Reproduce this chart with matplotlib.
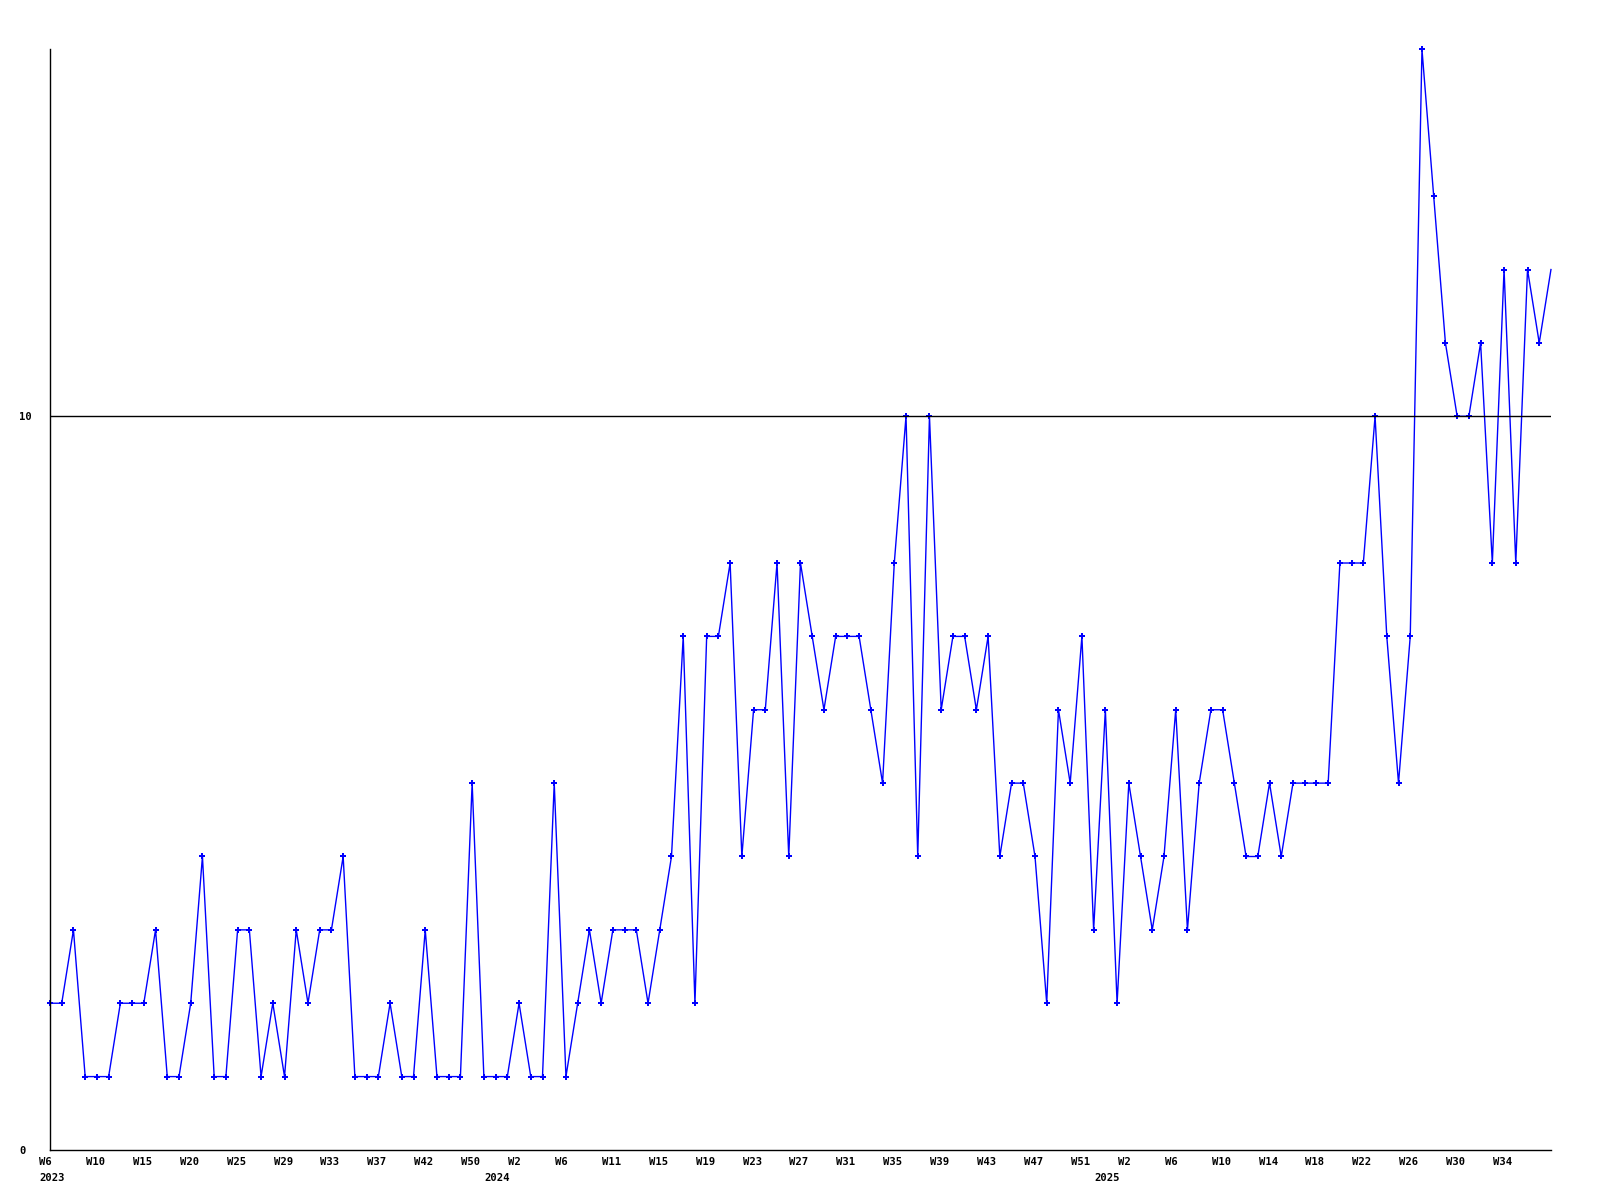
import matplotlib.pyplot as plt
from matplotlib.transforms import ScaledTranslation

# weekly values, 2023 W6 .. 2025
valores = [2, 2, 3, 1, 1, 1, 2, 2, 2, 3, 1, 1, 2, 4, 1, 1, 3, 3, 1, 2,
           1, 3, 2, 3, 3, 4, 1, 1, 1, 2, 1, 1, 3, 1, 1, 1, 5, 1, 1, 1,
           2, 1, 1, 5, 1, 2, 3, 2, 3, 3, 3, 2, 3, 4, 7, 2, 7, 7, 8, 4,
           6, 6, 8, 4, 8, 7, 6, 7, 7, 7, 6, 5, 8, 10, 4, 10, 6, 7, 7, 6,
           7, 4, 5, 5, 4, 2, 6, 5, 7, 3, 6, 2, 5, 4, 3, 4, 6, 3, 5, 6,
           6, 5, 4, 4, 5, 4, 5, 5, 5, 5, 8, 8, 8, 10, 7, 5, 7, 15, 13, 11,
           10, 10, 11, 8, 12, 8, 12, 11, 12]

# one label every 4 points
semanas = ["W6", "W10", "W15", "W20", "W25", "W29", "W33", "W37", "W42", "W50",
           "W2", "W6", "W11", "W15", "W19", "W23", "W27", "W31", "W35", "W39",
           "W43", "W47", "W51", "W2", "W6", "W10", "W14", "W18", "W22", "W26",
           "W30", "W34"]

anos = ["2023", "2024", "2025"]
idx_anos = [0, 38, 90]

fonte = dict(family="DejaVu Sans Mono", weight="bold", size=7.6)

fig = plt.figure(figsize=(16, 12), dpi=100)
ax = fig.add_axes([0.03125, 0.0417, 0.9381, 0.9171])

x = list(range(len(valores)))
ax.plot(x, valores, color="#0000ff", linewidth=1.0, marker="P", markersize=4.5,
        markeredgewidth=0, markevery=slice(0, len(valores) - 1), clip_on=False)

ax.axhline(10, color="black", linewidth=1.0)

for s in ["top", "right"]:
    ax.spines[s].set_visible(False)
for s in ["left", "bottom"]:
    ax.spines[s].set_linewidth(1.0)
    ax.spines[s].set_color("black")

ax.set_yticks([0, 10])
ax.set_yticklabels(["0", "10"], **fonte)
ax.tick_params(axis="y", length=0, pad=22)
for lab in ax.get_yticklabels():
    lab.set_horizontalalignment("left")

ax.set_xticks(x[:len(semanas) * 4:4])
ax.set_xticklabels(semanas, **fonte)
ax.tick_params(axis="x", length=0, pad=5)
desloc = ScaledTranslation(-11 / 100, 0, fig.dpi_scale_trans)
for lab in ax.get_xticklabels():
    lab.set_horizontalalignment("left")
    lab.set_transform(lab.get_transform() + desloc)

ax.set_xlim(0, len(valores) - 1)
ax.set_ylim(0, 15)

for ano, i in zip(anos, idx_anos):
    ax.annotate(ano, xy=(i, 0), xycoords=("data", "axes fraction"),
                xytext=(-11, -28), textcoords="offset pixels",
                ha="left", va="center", annotation_clip=False, **fonte)

plt.savefig("out.png", dpi=100)
